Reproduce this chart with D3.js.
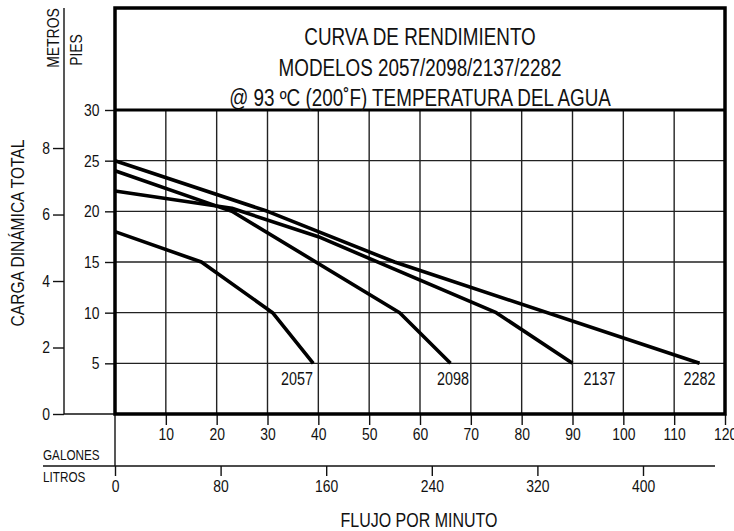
<!DOCTYPE html>
<html>
<head>
<meta charset="utf-8">
<script src="https://cdn.jsdelivr.net/npm/d3@7"></script>
<style>
  body { margin: 0; background: #fff; }
  svg text { font-family: "Liberation Sans", Arial, sans-serif; fill: #111; }
</style>
</head>
<body>
<div id="chart"></div>
<script>
// curves: [galones por minuto, pies]
const modelos = ["2057", "2098", "2137", "2282"];
const curva2057 = [[0, 18], [17, 15], [31, 10], [39, 5]];
const curva2098 = [[0, 24], [23, 20], [56, 10], [66, 5]];
const curva2137 = [[0, 22], [23, 20.3], [40, 17.5], [75, 10], [90, 5]];
const curva2282 = [[0, 25], [30, 20], [55, 15], [115, 5]];
const etiquetaGal = [35.8, 66.5, 95.3, 115];   // where the model numbers sit
const ticksGal = [10, 20, 30, 40, 50, 60, 70, 80, 90, 100, 110, 120];
const ticksPies = [5, 10, 15, 20, 25, 30];
const ticksMetros = [0, 2, 4, 6, 8];
const ticksLitros = [0, 80, 160, 240, 320, 400];
const titulo = ["CURVA DE RENDIMIENTO", "MODELOS 2057/2098/2137/2282", "@ 93 ºC (200˚F) TEMPERATURA DEL AGUA"];

const W = 734, H = 531;
const left = 115, right = 725, bottom = 414, gridTop = 110, boxTop = 8;
const sx = 0.82; // the original uses a narrow face, squeeze the text

const svg = d3.select("#chart").append("svg")
    .attr("width", W)
    .attr("height", H);

const x = d3.scaleLinear().domain([0, 120]).range([left, right]);
const y = d3.scaleLinear().domain([0, 30]).range([bottom, gridTop]);
const yM = d3.scaleLinear().domain([0, 30 / 3.2808]).range([bottom, gridTop]);
const xL = d3.scaleLinear().domain([0, 400]).range([left, 643]);

function texto(tx, ty, str, size, anchor, rot) {
    svg.append("g")
        .attr("transform", `translate(${tx},${ty}) rotate(${rot || 0}) scale(${sx},1)`)
        .append("text")
        .attr("text-anchor", anchor || "start")
        .style("font-size", size + "px")
        .text(str);
}

// grid
svg.append("g").selectAll("line")
    .data(ticksGal.slice(0, -1))
    .join("line")
    .attr("x1", d => x(d)).attr("x2", d => x(d))
    .attr("y1", gridTop).attr("y2", bottom)
    .attr("stroke", "#222").attr("stroke-width", 1.4);

svg.append("g").selectAll("line")
    .data(ticksPies.slice(0, -1))
    .join("line")
    .attr("x1", left).attr("x2", right)
    .attr("y1", d => y(d)).attr("y2", d => y(d))
    .attr("stroke", "#222").attr("stroke-width", 1.4);

// feet axis (left of plot)
const axPies = svg.append("g")
    .attr("transform", `translate(${left},0)`)
    .call(d3.axisLeft(y).tickValues(ticksPies).tickSize(10));
axPies.select(".domain").remove();
axPies.selectAll("line").attr("stroke", "#111").attr("stroke-width", 1.4);
axPies.selectAll("text")
    .attr("x", -15.5 / sx)
    .attr("transform", `scale(${sx},1)`)
    .style("font-size", "17px").attr("fill", "#111");

// meters axis
const axM = svg.append("g")
    .attr("transform", "translate(64,0)")
    .call(d3.axisLeft(yM).tickValues(ticksMetros).tickSize(11));
axM.select(".domain").remove();
axM.selectAll("line").attr("stroke", "#111").attr("stroke-width", 1.4);
axM.selectAll("text")
    .attr("x", -14 / sx)
    .attr("transform", `scale(${sx},1)`)
    .style("font-size", "17px").attr("fill", "#111");

svg.append("line")
    .attr("x1", 64).attr("x2", 64)
    .attr("y1", boxTop).attr("y2", bottom)
    .attr("stroke", "#111").attr("stroke-width", 1.4);
svg.append("line")
    .attr("x1", 64).attr("x2", left)
    .attr("y1", bottom).attr("y2", bottom)
    .attr("stroke", "#111").attr("stroke-width", 1.4);

texto(59, 38, "METROS", 17, "middle", -90);
texto(82, 50, "PIES", 17, "middle", -90);
texto(24, 233, "CARGA DINÁMICA TOTAL", 19, "middle", -90);

// gallons axis
const axG = svg.append("g")
    .attr("transform", `translate(0,${bottom})`)
    .call(d3.axisBottom(x).tickValues(ticksGal).tickSize(11).tickPadding(3));
axG.select(".domain").remove();
axG.selectAll("line").attr("stroke", "#111").attr("stroke-width", 1.4);
axG.selectAll("text")
    .attr("transform", `scale(${sx},1)`)
    .style("font-size", "17px").attr("fill", "#111");

// litres axis
svg.append("line")
    .attr("x1", 43).attr("x2", 715)
    .attr("y1", 466).attr("y2", 466)
    .attr("stroke", "#111").attr("stroke-width", 1.4);
svg.append("line")
    .attr("x1", left).attr("x2", left)
    .attr("y1", bottom).attr("y2", 466)
    .attr("stroke", "#111").attr("stroke-width", 1.4);
const axL = svg.append("g")
    .attr("transform", "translate(0,466)")
    .call(d3.axisBottom(xL).tickValues(ticksLitros).tickSize(10).tickPadding(4));
axL.select(".domain").remove();
axL.selectAll("line").attr("stroke", "#111").attr("stroke-width", 1.4);
axL.selectAll("text")
    .attr("transform", `scale(${sx},1)`)
    .style("font-size", "17px").attr("fill", "#111");

texto(43, 460, "GALONES", 14.3, "start");
texto(43, 482, "LITROS", 14.3, "start");
texto(419, 527, "FLUJO POR MINUTO", 19.5, "middle");

// curves
const line = d3.line()
    .x(d => x(d[0]))
    .y(d => y(d[1]));

const curvas = [curva2057, curva2098, curva2137, curva2282];
svg.append("g").selectAll("path")
    .data(curvas)
    .join("path")
    .attr("d", line)
    .attr("fill", "none")
    .attr("stroke", "#000")
    .attr("stroke-width", 3.6)
    .attr("stroke-linejoin", "round");

modelos.forEach((m, i) => texto(x(etiquetaGal[i]), 385, m, 17.5, "middle"));

// frame
svg.append("rect")
    .attr("x", left).attr("y", boxTop)
    .attr("width", right - left).attr("height", bottom - boxTop)
    .attr("fill", "none")
    .attr("stroke", "#000").attr("stroke-width", 3.5);
svg.append("line")
    .attr("x1", left).attr("x2", right)
    .attr("y1", gridTop).attr("y2", gridTop)
    .attr("stroke", "#000").attr("stroke-width", 3);

titulo.forEach((t, i) => texto((left + right) / 2, 45 + i * 30.5, t, 23, "middle"));
</script>
</body>
</html>
